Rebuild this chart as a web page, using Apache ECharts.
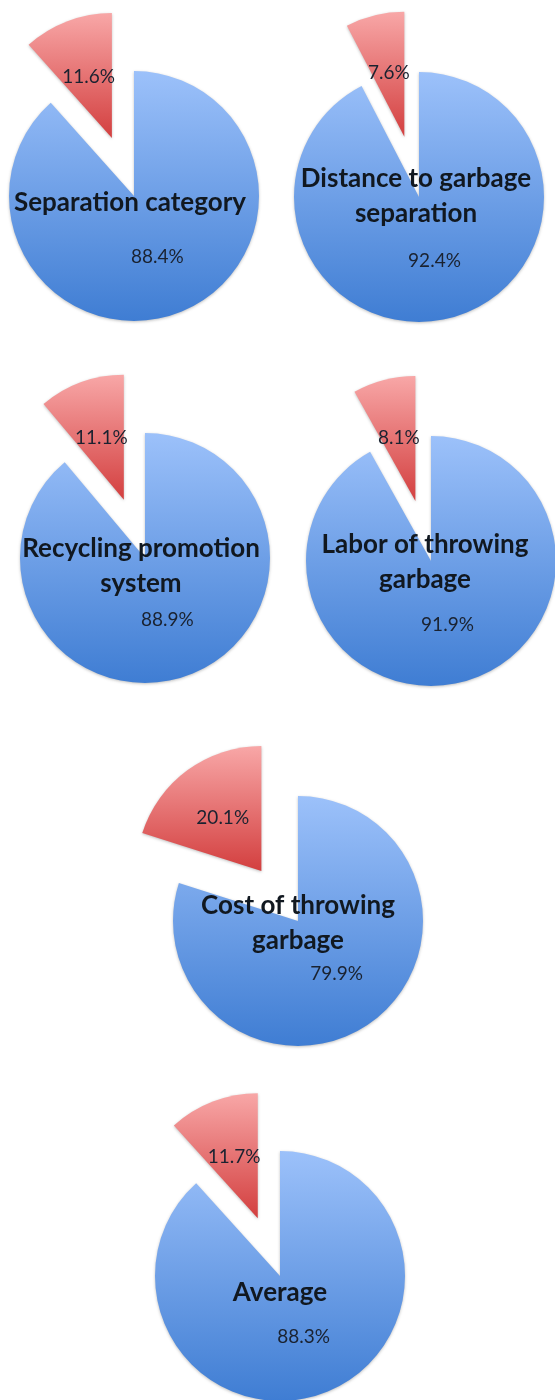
<!DOCTYPE html>
<html>
<head>
<meta charset="utf-8">
<script src="https://cdn.jsdelivr.net/npm/echarts@6/dist/echarts.min.js"></script>
<style>
html,body{margin:0;padding:0;background:#fff;}
#c{width:555px;height:1400px;}
</style>
</head>
<body>
<div id="c"></div>
<script>
// ---- data ----
const categories = ["Separation category", "Distance to garbage\nseparation", "Recycling promotion\nsystem", "Labor of throwing\ngarbage", "Cost of throwing\ngarbage", "Average"];
const yesValues = [88.4, 92.4, 88.9, 91.9, 79.9, 88.3];
const noValues = [11.6, 7.6, 11.1, 8.1, 20.1, 11.7];

// ---- layout (px) ----
const centers = [[134, 196], [419, 197], [145, 558], [431, 561], [298, 921], [280, 1276]];
const titlePos = [[130, 203], [416, 196], [141, 566], [425, 562], [298, 923], [280, 1293]];
const R = 125;
const OFFSET = 62;

const blueGrad = new echarts.graphic.LinearGradient(0, 0, 0, 1, [
  {offset: 0, color: '#9cc1fa'}, {offset: 1, color: '#3f7dd3'}]);
const redGrad = new echarts.graphic.LinearGradient(0, 0, 0, 1, [
  {offset: 0, color: '#f8a7a7'}, {offset: 1, color: '#d33f3f'}]);

const series = categories.map((cat, i) => ({
  type: 'pie',
  center: centers[i],
  radius: [0, R],
  startAngle: 90,
  clockwise: true,
  selectedMode: 'single',
  selectedOffset: OFFSET,
  animation: false,
  silent: true,
  emphasis: {disabled: true, scale: false},
  avoidLabelOverlap: false,
  labelLine: {show: false},
  label: {
    show: true,
    position: 'inside',
    formatter: p => p.value.toFixed(1) + '%',
    fontFamily: 'Lato',
    fontSize: 19,
    color: '#1a2230'
  },
  itemStyle: {shadowBlur: 3, shadowColor: 'rgba(0,0,0,0.25)', shadowOffsetY: 1},
  data: [
    {name: 'yes', value: yesValues[i], itemStyle: {color: blueGrad}},
    {name: 'no', value: noValues[i], selected: true, itemStyle: {color: redGrad}}
  ]
}));

const graphic = categories.map((cat, i) => ({
  type: 'text',
  x: titlePos[i][0],
  y: titlePos[i][1],
  z: 100,
  silent: true,
  style: {
    text: cat,
    align: 'center',
    verticalAlign: 'middle',
    fontFamily: 'Lato',
    fontWeight: 'bold',
    fontSize: 26,
    lineHeight: 35,
    fill: '#111820'
  }
}));

const chart = echarts.init(document.getElementById('c'), null, {renderer: 'canvas'});
chart.setOption({
  animation: false,
  backgroundColor: '#ffffff',
  series: series,
  graphic: graphic
});
</script>
</body>
</html>
